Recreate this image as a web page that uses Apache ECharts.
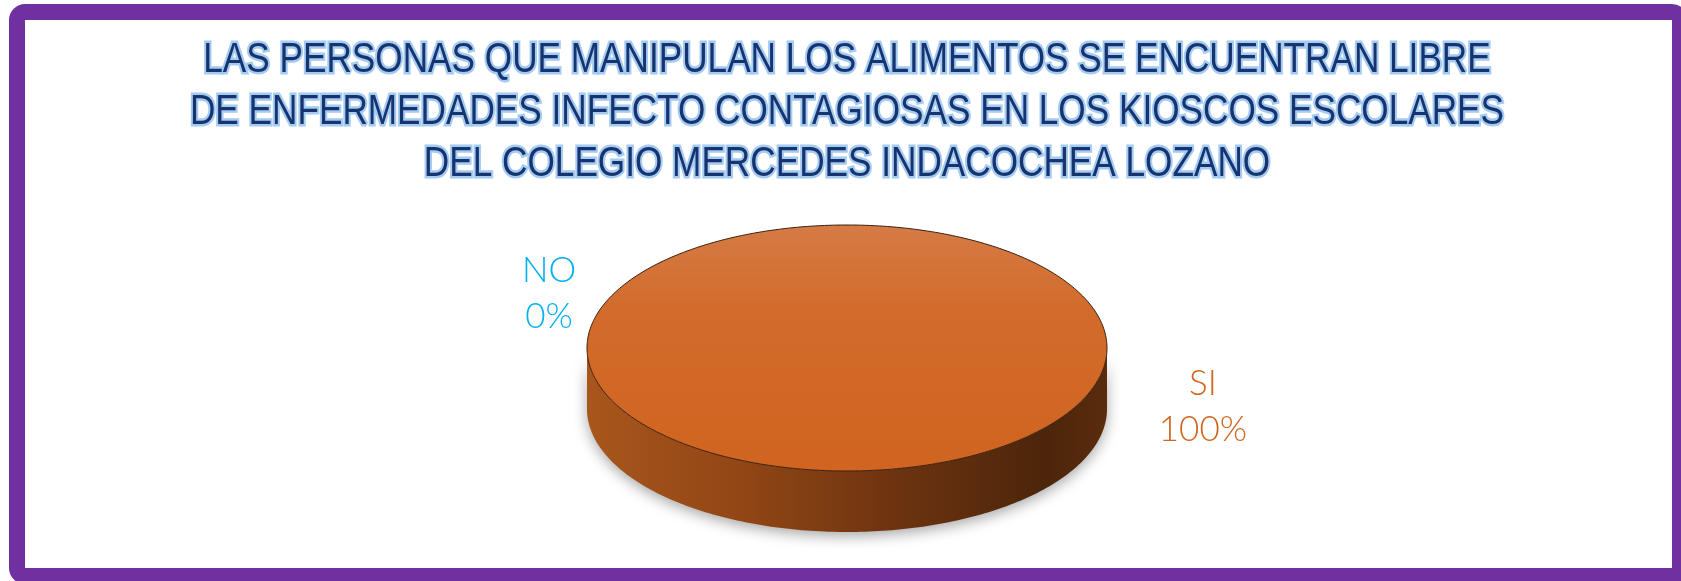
<!DOCTYPE html>
<html>
<head>
<meta charset="utf-8">
<script src="https://cdn.jsdelivr.net/npm/echarts@6/dist/echarts.min.js"></script>
<style>
html,body{margin:0;padding:0;background:#fff;}
#chart{width:1681px;height:581px;}
</style>
</head>
<body>
<div id="chart"></div>
<script>
// ---- data ----
const categories = ['SI', 'NO'];
const values = [100, 0];
const titleLines = [
  'LAS PERSONAS QUE MANIPULAN LOS ALIMENTOS SE ENCUENTRAN LIBRE',
  'DE ENFERMEDADES INFECTO CONTAGIOSAS EN LOS KIOSCOS ESCOLARES',
  'DEL COLEGIO MERCEDES INDACOCHEA LOZANO'
];
const labelColors = ['#D0651E', '#00B0F0'];

// ---- layout (style constants) ----
const PIE = { cx: 847, cy: 348, rx: 260, ry: 123, depth: 61 };
const START = 200 * Math.PI / 180;      // start angle of first slice (clockwise on screen)
const LABEL = { cx: 876, cy: 350, k: 1.338 };

const total = values.reduce((a, b) => a + b, 0);
const cum = [];
values.reduce((acc, v, i) => { cum[i] = acc; return acc + v; }, 0);

function pt(a, dy) {
  return [PIE.cx + PIE.rx * Math.cos(a), PIE.cy + PIE.ry * Math.sin(a) + (dy || 0)];
}
function arcPts(a0, a1, dy) {
  const n = Math.max(2, Math.ceil(Math.abs(a1 - a0) / (Math.PI / 180)));
  const out = [];
  for (let j = 0; j <= n; j++) out.push(pt(a0 + (a1 - a0) * j / n, dy));
  return out;
}

function renderItem(params, api) {
  const i = params.dataIndex;
  const v = api.value(0);
  const a0 = START + 2 * Math.PI * cum[i] / total;
  const a1 = a0 + 2 * Math.PI * v / total;
  const mid = (a0 + a1) / 2;
  const children = [];
  if (v > 0) {
    for (let k = -1; k <= 2; k++) {
      const s = Math.max(a0, 2 * Math.PI * k);
      const e = Math.min(a1, 2 * Math.PI * k + Math.PI);
      if (e > s) {
        const top = arcPts(s, e, 0);
        const bot = arcPts(e, s, PIE.depth);
        children.push({
          type: 'polygon',
          shape: { points: top.concat(bot) },
          style: {
            fill: new echarts.graphic.LinearGradient(0, 0, 1, 0, [
              { offset: 0, color: '#A8561C' },
              { offset: 0.3, color: '#914615' },
              { offset: 0.6, color: '#6C3310' },
              { offset: 0.88, color: '#4C250A' },
              { offset: 1, color: '#5A2C0D' }
            ]),
            shadowBlur: 14,
            shadowColor: 'rgba(0,0,0,0.35)',
            shadowOffsetY: 4
          }
        });
      }
    }
    let topPts = arcPts(a0, a1, 0);
    if (v < total) topPts = [[PIE.cx, PIE.cy]].concat(topPts);
    children.push({
      type: 'polygon',
      shape: { points: topPts },
      style: {
        fill: new echarts.graphic.LinearGradient(0, 0, 0, 1, [
          { offset: 0, color: '#D57B46' },
          { offset: 0.35, color: '#D26B2B' },
          { offset: 1, color: '#D06420' }
        ]),
        stroke: '#3B2010',
        lineWidth: 1
      }
    });
  }
  const pct = Math.round(v / total * 100);
  children.push({
    type: 'text',
    x: LABEL.cx + LABEL.k * PIE.rx * Math.cos(mid),
    y: LABEL.cy + LABEL.k * PIE.ry * Math.sin(mid),
    style: {
      text: categories[i] + '\n' + pct + '%',
      fill: labelColors[i],
      font: '300 35px Lato, "Open Sans", sans-serif',
      align: 'center',
      verticalAlign: 'middle',
      lineHeight: 46
    }
  });
  return { type: 'group', children: children };
}

const chart = echarts.init(document.getElementById('chart'), null, { renderer: 'canvas' });
chart.setOption({
  backgroundColor: '#ffffff',
  animation: false,
  graphic: [{
    type: 'text',
    x: 847,
    y: 34,
    scaleX: 0.818,
    style: {
      text: titleLines.join('\n'),
      font: 'normal 43px "Liberation Sans", Arial, sans-serif',
      align: 'center',
      verticalAlign: 'top',
      lineHeight: 52,
      fill: '#163470',
      stroke: 'rgba(160,200,240,0.95)',
      lineWidth: 5,
      strokeFirst: true,
      shadowColor: 'rgba(115,168,228,0.9)',
      shadowBlur: 5,
      shadowOffsetX: 2,
      shadowOffsetY: 3
    },
    z: 50
  }, {
    type: 'rect',
    shape: { x: 17, y: 12, width: 1663, height: 564, r: 8 },
    style: { fill: 'none', stroke: '#7030A0', lineWidth: 16 },
    z: 100
  }],
  series: [{
    type: 'custom',
    coordinateSystem: 'none',
    renderItem: renderItem,
    data: values.map((v, i) => ({ name: categories[i], value: [v] }))
  }]
});
</script>
</body>
</html>
